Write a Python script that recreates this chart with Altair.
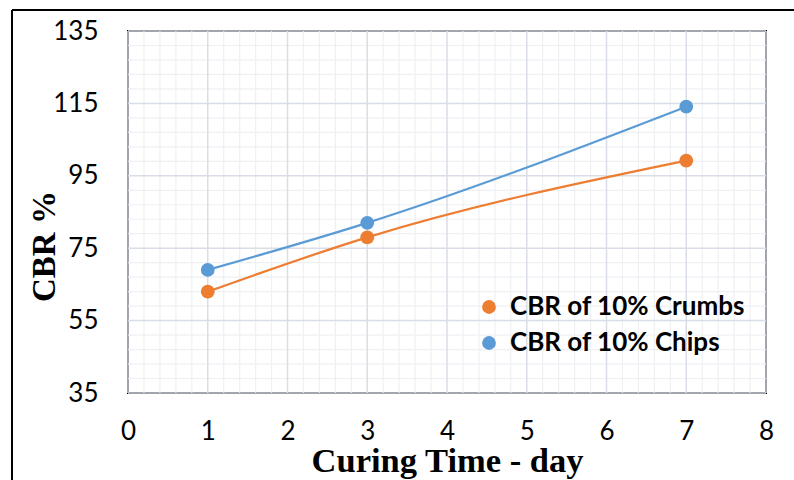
import altair as alt
import pandas as pd

# Curing time (days) and CBR values for the two mixes
days = [1, 3, 7]
crumbs_cbr = [63, 78, 99.2]
chips_cbr = [69, 82, 114.1]
series_names = ["CBR of 10% Crumbs", "CBR of 10% Chips"]
series_colors = ["#ED7D31", "#5B9BD5"]

# Axis ticks
x_major = [0, 1, 2, 3, 4, 5, 6, 7, 8]
y_major = [35, 55, 75, 95, 115, 135]
x_minor = [round(i * 0.2, 1) for i in range(41) if i % 5 != 0]
y_minor = [35 + i * 4 for i in range(26) if i % 5 != 0]

df = pd.DataFrame({
    "day": days * 2,
    "cbr": crumbs_cbr + chips_cbr,
    "series": [series_names[0]] * len(days) + [series_names[1]] * len(days),
})

W, H = 638, 362
xs = alt.Scale(domain=[0, 8], nice=False, zero=False)
ys = alt.Scale(domain=[35, 135], nice=False, zero=False)

LABEL_FONT = "Lato"
TITLE_FONT = "Liberation Serif"

x_axis = alt.Axis(
    values=x_major, format="d", grid=False, ticks=False, domain=False,
    labelFont=LABEL_FONT, labelFontSize=26, labelColor="#000000",
    labelPadding=25, labelFlush=False, labelOverlap=False,
    title="Curing Time - day", titleFont=TITLE_FONT, titleFontSize=34.5,
    titleFontWeight="bold", titleColor="#000000",
    titleX=W / 2, titleY=78, titleAnchor="middle", titleBaseline="alphabetic",
)
y_axis = alt.Axis(
    values=y_major, format="d", grid=False, ticks=False, domain=False,
    labelFont=LABEL_FONT, labelFontSize=26, labelColor="#000000",
    labelPadding=30, labelFlush=False, labelOverlap=False, labelBaseline="middle",
    title="CBR %", titleFont=TITLE_FONT, titleFontSize=33,
    titleFontWeight="bold", titleColor="#000000", titleAngle=-90,
    titleX=-84, titleY=215, titleAlign="center", titleBaseline="middle",
)

minor_v = alt.Chart(pd.DataFrame({"x": x_minor})).mark_rule(
    color="#EEF0F4", strokeWidth=1.2
).encode(x=alt.X("x:Q", scale=xs, axis=x_axis))
minor_h = alt.Chart(pd.DataFrame({"y": y_minor})).mark_rule(
    color="#EEF0F4", strokeWidth=1.2
).encode(y=alt.Y("y:Q", scale=ys, axis=y_axis))
major_v = alt.Chart(pd.DataFrame({"x": x_major})).mark_rule(
    color="#D9DEE6", strokeWidth=1.5
).encode(x=alt.X("x:Q", scale=xs))
major_h = alt.Chart(pd.DataFrame({"y": y_major})).mark_rule(
    color="#D9DEE6", strokeWidth=1.5
).encode(y=alt.Y("y:Q", scale=ys))

color = alt.Color(
    "series:N",
    scale=alt.Scale(domain=series_names, range=series_colors),
    legend=alt.Legend(
        title=None, orient="none", legendX=348, legendY=263,
        symbolType="circle", symbolSize=190, symbolStrokeWidth=0,
        symbolOpacity=1, labelFont=LABEL_FONT, labelFontSize=26,
        labelFontWeight="bold", labelColor="#000000", rowPadding=10,
        labelOffset=8, labelLimit=400,
    ),
)

lines = alt.Chart(df).mark_line(
    interpolate="monotone", strokeWidth=2.2
).encode(
    x=alt.X("day:Q", scale=xs),
    y=alt.Y("cbr:Q", scale=ys),
    color=color,
    detail="series:N",
)
points = alt.Chart(df).mark_circle(size=190, opacity=1).encode(
    x=alt.X("day:Q", scale=xs),
    y=alt.Y("cbr:Q", scale=ys),
    color=alt.Color("series:N", scale=alt.Scale(domain=series_names, range=series_colors), legend=None),
)

# Outer chart-area frame (left and top edges)
frame_left = alt.Chart().mark_rule(color="#000000", strokeWidth=2).encode(
    x=alt.value(-116), y=alt.value(-21), y2=alt.value(460)
)
frame_top = alt.Chart().mark_rule(color="#000000", strokeWidth=2).encode(
    x=alt.value(-116), x2=alt.value(700), y=alt.value(-21)
)

chart = alt.layer(
    minor_v, minor_h, major_v, major_h, lines, points, frame_left, frame_top
).properties(
    width=W, height=H,
    padding={"left": 128, "top": 31, "right": 28, "bottom": 87},
    autosize=alt.AutoSizeParams(type="none"),
    background="#FFFFFF",
).configure_view(
    stroke="#000000", strokeWidth=2
)

chart.save("out.html", embed_options={"renderer": "svg", "actions": False})
